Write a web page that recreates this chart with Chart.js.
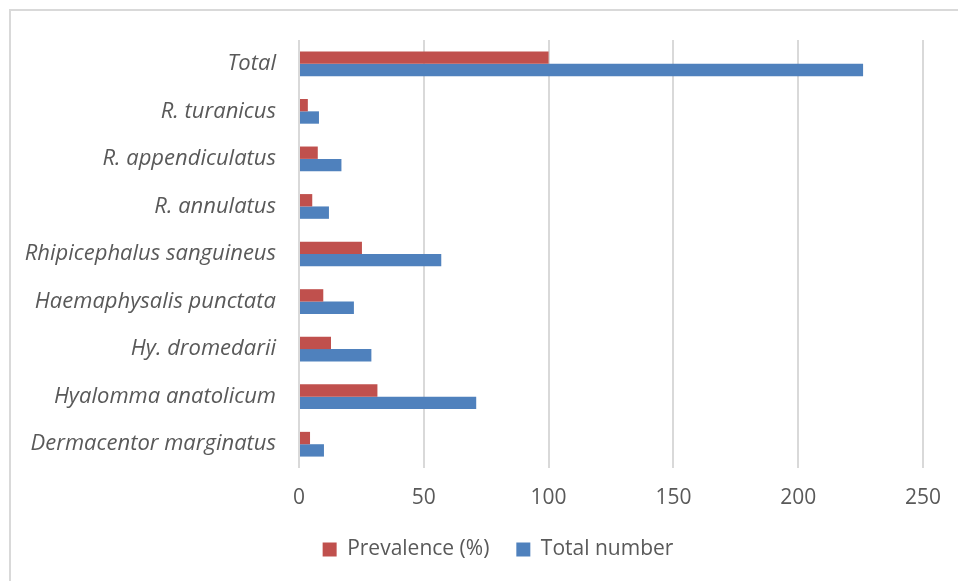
<!DOCTYPE html>
<html>
<head>
<meta charset="utf-8">
<script src="https://cdn.jsdelivr.net/npm/chart.js@4/dist/chart.umd.min.js"></script>
<style>
  html, body { margin: 0; padding: 0; background: #fff; }
  #wrap { position: relative; width: 958px; height: 581px; overflow: hidden; }
  #frame { position: absolute; left: 9px; top: 9px; width: 1000px; height: 1000px;
           border-left: 2px solid #d9d9d9; border-top: 2px solid #d9d9d9; }
  canvas { position: absolute; left: 0; top: 0; }
</style>
</head>
<body>
<div id="wrap">
  <div id="frame"></div>
  <canvas id="c" width="958" height="581"></canvas>
</div>
<script>
const categories = [
  "Total",
  "R. turanicus",
  "R. appendiculatus",
  "R. annulatus",
  "Rhipicephalus sanguineus",
  "Haemaphysalis punctata",
  "Hy. dromedarii",
  "Hyalomma anatolicum",
  "Dermacentor marginatus"
];
const prevalence = [100, 3.54, 7.52, 5.31, 25.22, 9.73, 12.83, 31.42, 4.42];
const totalNumber = [226, 8, 17, 12, 57, 22, 29, 71, 10];
const xTicks = [0, 50, 100, 150, 200, 250];

const FONT = "'Open Sans', 'DejaVu Sans', sans-serif";
const TXT = "#595959";
const PADL = 12;
const LEGEND_SHIFT = 30;

const shiftLegend = {
  id: "shiftLegend",
  afterLayout(chart) {
    if (chart.legend) { chart.legend.left += LEGEND_SHIFT; chart.legend.right += LEGEND_SHIFT; }
  }
};

new Chart(document.getElementById("c"), {
  type: "bar",
  plugins: [shiftLegend],
  data: {
    labels: categories,
    datasets: [
      { label: "Prevalence (%)", data: prevalence, backgroundColor: "#C0504D",
        borderColor: "#C0504D", borderWidth: 0, categoryPercentage: 0.52, barPercentage: 1.0 },
      { label: "Total number", data: totalNumber, backgroundColor: "#4F81BD",
        borderColor: "#4F81BD", borderWidth: 0, categoryPercentage: 0.52, barPercentage: 1.0 }
    ]
  },
  options: {
    indexAxis: "y",
    responsive: false,
    animation: false,
    devicePixelRatio: 1,
    layout: { padding: { left: PADL, right: 34, top: 40, bottom: 11 } },
    plugins: {
      legend: {
        position: "bottom",
        labels: {
          color: TXT,
          font: { family: FONT, size: 21 },
          boxWidth: 14, boxHeight: 14, padding: 27
        }
      },
      tooltip: { enabled: false }
    },
    scales: {
      x: {
        min: 0, max: 250,
        afterBuildTicks: (s) => { s.ticks = xTicks.map(v => ({ value: v })); },
        afterFit: (s) => { s.height = 44; },
        grid: { color: "#d9d9d9", lineWidth: 2, drawTicks: false },
        border: { display: false },
        ticks: { color: TXT, font: { family: FONT, size: 21 }, padding: 17 }
      },
      y: {
        grid: { display: false },
        border: { display: false },
        afterFit: (s) => { s.width = 299 - PADL; },
        ticks: { color: TXT, font: { family: FONT, size: 22, style: "italic" }, padding: 15 }
      }
    }
  }
});
</script>
</body>
</html>
